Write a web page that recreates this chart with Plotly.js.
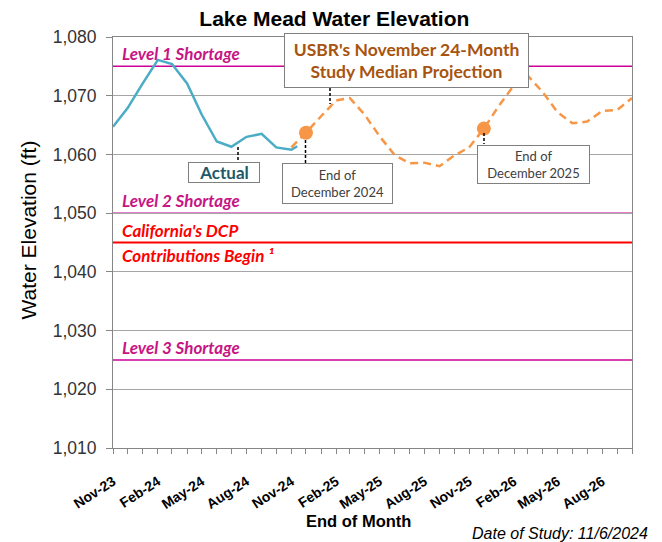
<!DOCTYPE html>
<html>
<head>
<meta charset="utf-8">
<script src="https://cdn.plot.ly/plotly-3.0.1.min.js"></script>
<style>html,body{margin:0;padding:0;background:#fff;}#chart{width:662px;height:542px;}</style>
</head>
<body>
<div id="chart"></div>
<script>
// ---- Data ----
var actualDates = ['2023-11-01','2023-12-01','2024-01-01','2024-02-01','2024-03-01','2024-04-01','2024-05-01','2024-06-01','2024-07-01','2024-08-01','2024-09-01','2024-10-01','2024-11-01','2024-11-13'];
var actualValues = [1064.7, 1067.9, 1072.1, 1076.1, 1075.4, 1072.1, 1066.8, 1062.2, 1061.3, 1063.0, 1063.5, 1061.2, 1060.8, 1061.4];

var projDates = ['2024-11-01','2024-12-01','2025-01-01','2025-02-01','2025-03-01','2025-04-01','2025-05-01','2025-06-01','2025-07-01','2025-08-01','2025-09-01','2025-10-01','2025-11-01','2025-12-01','2026-01-01','2026-02-01','2026-03-01','2026-04-01','2026-05-01','2026-06-01','2026-07-01','2026-08-01','2026-09-01','2026-10-01'];
var projValues = [1061.2, 1063.7, 1066.5, 1069.2, 1069.6, 1066.7, 1063.1, 1059.9, 1058.5, 1058.6, 1058.0, 1059.8, 1061.2, 1064.4, 1068.3, 1071.8, 1073.4, 1070.6, 1067.2, 1065.3, 1065.6, 1067.4, 1067.6, 1069.6];

var markerDates = ['2024-12-01', '2025-12-01'];
var markerValues = markerDates.map(function (d) { return projValues[projDates.indexOf(d)]; });

var thresholdValues = [1075, 1050, 1045, 1025];
var thresholdColors = ['#CC0099', '#CC0099', '#FF0000', '#CC0099'];

var xRange = ['2023-11-01', '2026-10-01'];
var yRange = [1010, 1080];

// ---- Layout helpers (pixel -> paper) ----
var L = 113, R = 632, T = 37, B = 448;
function px(x) { return (x - L) / (R - L); }
function py(y) { return (B - y) / (B - T); }

var ARIAL = 'Liberation Sans, Arial, sans-serif';
var labelFont = {family: 'Lato, sans-serif', size: 17, color: '#C71585', weight: 'bold', style: 'italic'};
var redFont = {family: 'Lato, sans-serif', size: 17, color: '#FF0000', weight: 'bold', style: 'italic'};
var boxFont = {family: 'Lato, sans-serif', size: 13, color: '#404040'};

var traces = [
  {x: actualDates, y: actualValues, type: 'scatter', mode: 'lines', line: {color: '#4BACC6', width: 2.5}, hoverinfo: 'skip'},
  {x: projDates, y: projValues, type: 'scatter', mode: 'lines', line: {color: '#F79646', width: 2.5, dash: '8px,5px'}, hoverinfo: 'skip'},
  {x: markerDates, y: markerValues, type: 'scatter', mode: 'markers', marker: {color: '#F79646', size: 14}, hoverinfo: 'skip'}
];

var shapes = thresholdValues.map(function (v, i) {
  return {type: 'line', xref: 'paper', x0: 0, x1: 1, yref: 'y', y0: v, y1: v, layer: 'below',
          line: {color: thresholdColors[i], width: i === 2 ? 2 : 1.5}};
});
function leader(x, y0, y1) {
  return {type: 'line', xref: 'paper', yref: 'paper', x0: px(x), x1: px(x), y0: py(y0), y1: py(y1),
          line: {color: '#000', width: 1.5, dash: '3px,2px'}};
}
shapes.push(leader(238, 147, 162));
shapes.push(leader(330, 88, 104));
shapes.push(leader(305.5, 140, 163));
shapes.push(leader(484, 133, 144));

function box(text, cx, cy, w, h, font) {
  return {xref: 'paper', yref: 'paper', x: px(cx), y: py(cy), xanchor: 'center', yanchor: 'middle',
          text: text, showarrow: false, font: font, bgcolor: '#fff', bordercolor: '#7F7F7F',
          borderwidth: 1, borderpad: 1, width: w - 4, height: h - 4, align: 'center', valign: 'middle'};
}
function lvl(text, yv, anchor, font) {
  return {xref: 'paper', yref: 'y', x: px(120), y: yv, xanchor: 'left', yanchor: anchor,
          text: text, showarrow: false, font: font};
}

var annotations = [
  lvl('Level 1 Shortage', thresholdValues[0], 'bottom', labelFont),
  lvl('Level 2 Shortage', thresholdValues[1], 'bottom', labelFont),
  lvl("California's DCP", thresholdValues[2], 'bottom', redFont),
  lvl('Contributions Begin \u00B9', thresholdValues[2], 'top', redFont),
  lvl('Level 3 Shortage', thresholdValues[3], 'bottom', labelFont),
  box('Actual', 224, 172.5, 72, 21, {family: 'Lato, sans-serif', size: 17, color: '#215968', weight: 'bold'}),
  box("USBR's November 24-Month<br>Study Median Projection", 406.5, 60.5, 245, 55, {family: 'Lato, sans-serif', size: 17.5, color: '#A8540F', weight: 'bold'}),
  box('End of<br>December 2024', 337.5, 183.5, 111, 41, boxFont),
  box('End of<br>December 2025', 533, 164, 113, 39, boxFont),
  {xref: 'paper', yref: 'paper', x: px(27.5), y: py(230), xanchor: 'center', yanchor: 'middle', showarrow: false, textangle: -90,
   text: 'Water Elevation (ft)', font: {family: ARIAL, size: 21, color: '#000'}},
  {xref: 'paper', yref: 'paper', x: px(358), y: py(521), xanchor: 'center', yanchor: 'middle', showarrow: false,
   text: 'End of Month', font: {family: ARIAL, size: 16.5, color: '#000', weight: 'bold'}},
  {xref: 'paper', yref: 'paper', x: px(650), y: py(533), xanchor: 'right', yanchor: 'middle', showarrow: false,
   text: 'Date of Study: 11/6/2024', font: {family: ARIAL, size: 16, color: '#000', style: 'italic'}}
];

var layout = {
  width: 662, height: 542,
  margin: {l: L, r: 662 - R, t: T, b: 542 - B},
  paper_bgcolor: '#fff', plot_bgcolor: '#fff',
  showlegend: false,
  title: {text: 'Lake Mead Water Elevation', xref: 'container', x: 0.505, xanchor: 'center', yref: 'container', y: 1 - 19 / 542, yanchor: 'middle',
          font: {family: ARIAL, size: 21, color: '#000', weight: 'bold'}},
  xaxis: {type: 'date', range: xRange, tick0: '2023-11-01', dtick: 'M3', tickformat: '%b-%y', tickangle: -33,
          ticks: 'outside', ticklen: 5, tickcolor: '#868686', showgrid: false, zeroline: false,
          showline: true, linecolor: '#868686', linewidth: 1, mirror: true, ticklabelstandoff: 14,
          minor: {dtick: 'M1', ticks: 'outside', ticklen: 5, tickcolor: '#868686', showgrid: false},
          tickfont: {family: ARIAL, size: 14, color: '#000', weight: 'bold'}},
  yaxis: {range: yRange, dtick: 10, tickformat: ',.0f', ticks: 'outside', ticklen: 6, tickcolor: '#868686',
          showgrid: true, gridcolor: '#A6A6A6', gridwidth: 1, zeroline: false,
          showline: true, linecolor: '#868686', linewidth: 1, mirror: true, ticklabelstandoff: 6,
          tickfont: {family: ARIAL, size: 17.5, color: '#333'}},
  shapes: shapes,
  annotations: annotations
};

Plotly.newPlot('chart', traces, layout, {displayModeBar: false, staticPlot: true});
</script>
</body>
</html>
